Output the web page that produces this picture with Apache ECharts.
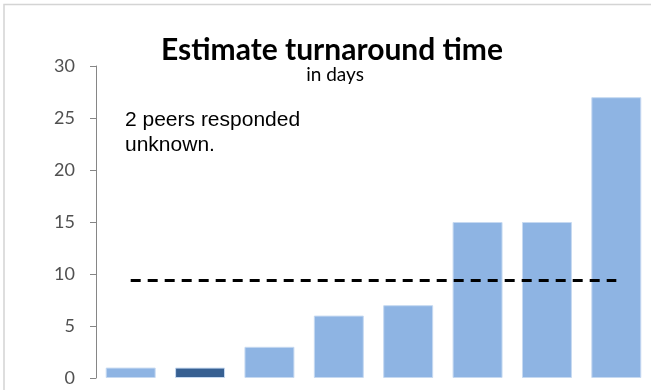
<!DOCTYPE html>
<html>
<head>
<meta charset="utf-8">
<script src="https://cdn.jsdelivr.net/npm/echarts@6/dist/echarts.min.js"></script>
<style>
  html, body { margin: 0; padding: 0; background: #ffffff; }
  #chart { width: 651px; height: 390px; }
</style>
</head>
<body>
<div id="chart"></div>
<script>
// Turnaround estimates (days) reported by each peer
const peers = ['P1', 'P2', 'P3', 'P4', 'P5', 'P6', 'P7', 'P8'];
const days = [1, 1, 3, 6, 7, 15, 15, 27];
const highlightIndex = 1;
const yTicks = { min: 0, max: 30, step: 5 };

// Average across all responses, drawn as a dashed reference line
const average = days.reduce((a, b) => a + b, 0) / days.length;
const averageLine = peers.map(() => average);

const chart = echarts.init(document.getElementById('chart'), null, { renderer: 'canvas' });

chart.setOption({
  animation: false,
  backgroundColor: '#ffffff',
  title: [
    {
      text: 'Estimate turnaround time',
      left: 327, top: 30, textAlign: 'center',
      textStyle: { fontFamily: 'Lato', fontWeight: 'bold', fontSize: 30, color: '#000000' }
    },
    {
      text: 'in days',
      left: 330, top: 60, textAlign: 'center',
      textStyle: { fontFamily: 'Lato', fontWeight: 'normal', fontSize: 19, color: '#000000' }
    }
  ],
  grid: { left: 96, right: -1, top: 66, bottom: 12, containLabel: false },
  xAxis: {
    type: 'category',
    data: peers,
    axisLine: { show: false },
    axisTick: { show: false },
    axisLabel: { show: false }
  },
  yAxis: {
    type: 'value',
    min: yTicks.min, max: yTicks.max, interval: yTicks.step,
    axisLine: { show: true, lineStyle: { color: '#868686', width: 1 } },
    axisTick: { show: true, inside: false, length: 6, lineStyle: { color: '#868686' } },
    axisLabel: { fontFamily: 'Lato', fontSize: 18, color: '#505050', margin: 21 },
    splitLine: { show: false }
  },
  series: [
    {
      type: 'bar',
      data: days.map((v, i) => ({
        value: v,
        itemStyle: { color: i === highlightIndex ? '#376092' : '#8eb4e3' }
      })),
      barWidth: '72%',
      itemStyle: { borderColor: '#c6d9f1', borderWidth: 1 }
    },
    {
      type: 'line',
      data: averageLine,
      symbol: 'none',
      lineStyle: { color: '#000000', width: 3, type: [10, 7] },
      z: 5
    }
  ],
  graphic: [
    {
      type: 'text',
      left: 125, top: 108,
      style: {
        text: '2 peers responded\nunknown.',
        font: '21px "Liberation Sans", Arial, sans-serif',
        fill: '#000000',
        lineHeight: 25
      }
    },
    {
      type: 'polyline',
      shape: { points: [[4, 390], [4, 4.5], [651, 4.5]] },
      style: { stroke: '#d4d4d4', lineWidth: 1.5, fill: null }
    }
  ]
});
</script>
</body>
</html>
